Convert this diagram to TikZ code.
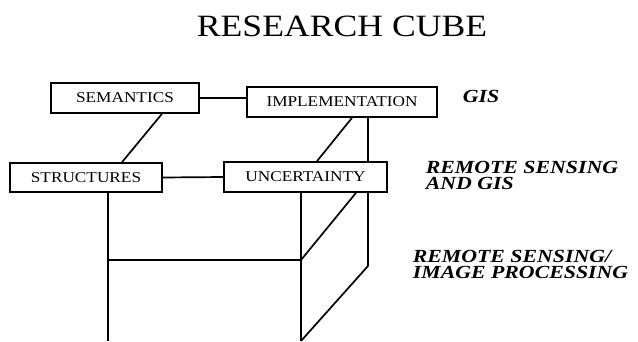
\documentclass[tikz,border=0pt]{standalone}
\usepackage{fontspec}
\setmainfont[FakeStretch=1.15]{Liberation Serif}
\newfontfamily\labfont[FakeStretch=1.18]{Liberation Serif}
\usetikzlibrary{calc}

\begin{document}
\begin{tikzpicture}[x=1pt,y=-1pt,line width=1.7pt]
\tikzstyle{box}=[draw,black,inner sep=0pt,minimum height=30pt,font=\fontsize{15}{18}\selectfont]
\tikzstyle{lab}=[inner sep=0pt,anchor=base west,align=left,font=\labfont\fontsize{18.5}{17}\selectfont\bfseries\itshape]
\useasboundingbox (0,0) rectangle (638,342);
\node [anchor=base,inner sep=0pt,font=\fontsize{31}{36}\selectfont] (title) at (342,37) {RESEARCH CUBE};
\node [box,minimum width=148pt] (sem) at (125,98) {SEMANTICS};
\node [box,minimum width=190pt] (impl) at (342,102) {IMPLEMENTATION};
\node [box,minimum width=152pt,minimum height=29pt] (struc) at (86,177.5) {STRUCTURES};
\node [box,minimum width=163pt] (unc) at (305.5,177) {UNCERTAINTY};
\node [lab] (gis) at (462,103) {GIS};
\node [lab] (rsgis) at (425,190) {REMOTE SENSING\\AND GIS};
\node [lab] (rsip) at (412,279) {REMOTE SENSING/\\IMAGE PROCESSING};
\coordinate (sl) at (108,341);
\coordinate (ml) at (108,260);
\coordinate (mr) at (301,260);
\coordinate (sr) at (301,341);
\coordinate (rb) at (368,266);
\draw [black] (sem.east) -- (impl.west |- sem.east);
\draw [black] (struc.east) -- (unc.west);
\draw [black] ($(sem.south)+(37,0)$) -- ($(struc.north)+(36,0)$);
\draw [black] ($(impl.south)+(10,0)$) -- ($(unc.north)+(11.5,0)$);
\draw [black] ($(impl.south)+(26,0)$) -- ($(unc.north)+(62.5,0)$);
\draw [black] ($(struc.south)+(22,0)$) -- (sl);
\draw [black] ($(unc.south)+(-4.5,0)$) -- (sr);
\draw [black] (ml) -- (mr) -- ($(unc.south)+(50.5,0)$);
\draw [black] ($(unc.south)+(62.5,0)$) -- (rb) -- (sr);
\end{tikzpicture}
\end{document}
